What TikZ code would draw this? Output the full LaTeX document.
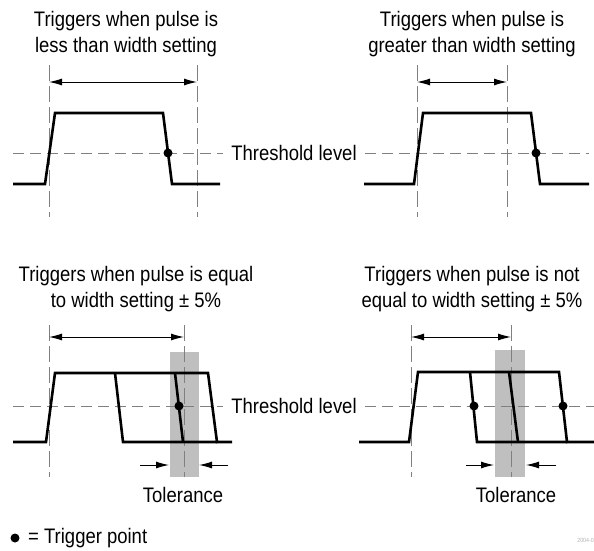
\documentclass[tikz,border=0pt]{standalone}
\usepackage{fontspec}
\setmainfont[FakeStretch=0.88]{Liberation Sans}
\usetikzlibrary{arrows.meta}

\begin{document}
\begin{tikzpicture}[x=1pt,y=-1pt,
  pulse/.style={line width=2.6pt,line join=miter},
  thresh/.style={gray,line width=0.8pt,dash pattern=on 11pt off 6pt},
  guide/.style={gray,line width=0.8pt,dash pattern=on 16pt off 5pt},
  widtharrow/.style={{Latex[length=13pt,width=7pt]}-{Latex[length=13pt,width=7pt]},line width=1pt},
  tolarrow/.style={-{Latex[length=13pt,width=7pt]},line width=1pt},
  tolband/.style={fill=gray!50,draw=none},
  trigdot/.style={circle,fill,inner sep=0pt,minimum size=9pt},
  caption/.style={font=\fontsize{21}{26}\selectfont,align=center,inner sep=0pt},
  threshlbl/.style={font=\fontsize{21}{26}\selectfont,inner ysep=0pt,inner xsep=8pt}]
\useasboundingbox (0,0) rectangle (594,551);

\node[caption] (t1) at (126,34) {Triggers when pulse is\\less than width setting};
\node[caption] (t2) at (472,34) {Triggers when pulse is\\greater than width setting};
\node[caption] (t3) at (136,289) {Triggers when pulse is equal\\to width setting ± 5\%};
\node[caption] (t4) at (472,289) {Triggers when pulse is not\\equal to width setting ± 5\%};

\fill[tolband] (170,352) rectangle (199,477);
\fill[tolband] (495,350) rectangle (525,477);

\draw[guide] (49,65) -- (49,217);
\draw[guide] (197,65) -- (197,217);
\draw[guide] (417,65) -- (417,217);
\draw[guide] (507,65) -- (507,217);
\draw[guide] (49,325) -- (49,477);
\draw[guide] (184,325) -- (184,477);
\draw[guide] (411,325) -- (411,477);
\draw[guide] (511,325) -- (511,477);

\node[threshlbl] (th1) at (294,153) {Threshold level};
\node[threshlbl] (th2) at (294,406) {Threshold level};
\draw[thresh] (13,153) -- (th1.west);
\draw[thresh] (th1.east) -- (589,153);
\draw[thresh] (13,406) -- (th2.west);
\draw[thresh] (th2.east) -- (594,406);

\coordinate (a1) at (49,82);  \coordinate (b1) at (197,82);
\coordinate (a2) at (417,82); \coordinate (b2) at (507,82);
\coordinate (a3) at (49,337); \coordinate (b3) at (184,337);
\coordinate (a4) at (411,337); \coordinate (b4) at (511,337);
\draw[widtharrow] (a1) -- (b1);
\draw[widtharrow] (a2) -- (b2);
\draw[widtharrow] (a3) -- (b3);
\draw[widtharrow] (a4) -- (b4);

\draw[pulse] (13,184) -- (45,184) -- (55,113) -- (163,113) -- (172,184) -- (220,184);
\draw[pulse] (364,184) -- (414,184) -- (423,113) -- (531,113) -- (540,184) -- (589,184);
\draw[pulse] (13,442) -- (46,442) -- (55,373) -- (208,373) -- (217,442) -- (232,442);
\draw[pulse] (115,373) -- (123,442) -- (217,442);
\draw[pulse] (175,373) -- (183,442);
\draw[pulse] (359,442) -- (409,442) -- (418,372) -- (559,372) -- (567,442) -- (594,442);
\draw[pulse] (470,372) -- (477,442) -- (567,442);
\draw[pulse] (509,372) -- (518,442);

\node[trigdot] (d1) at (168,153) {};
\node[trigdot] (d2) at (536,153) {};
\node[trigdot] (d3) at (179,406) {};
\node[trigdot] (d4) at (474,406) {};
\node[trigdot] (d5) at (563,406) {};

\coordinate (l3) at (140,465); \coordinate (r3) at (228,465);
\coordinate (l4) at (466,465); \coordinate (r4) at (556,465);
\draw[tolarrow] (l3) -- (169,465);
\draw[tolarrow] (r3) -- (199,465);
\draw[tolarrow] (l4) -- (494,465);
\draw[tolarrow] (r4) -- (526,465);
\node[caption] (tol3) at (183,495) {Tolerance};
\node[caption] (tol4) at (516,495) {Tolerance};

\node[trigdot] (key) at (15,538) {};
\node[caption,anchor=west] (keytxt) at (28,538) {= Trigger point};
\node[font=\fontsize{6}{6}\selectfont,text=gray!60,anchor=east,inner sep=0pt] (fig) at (594,540) {2004-0};
\end{tikzpicture}
\end{document}
